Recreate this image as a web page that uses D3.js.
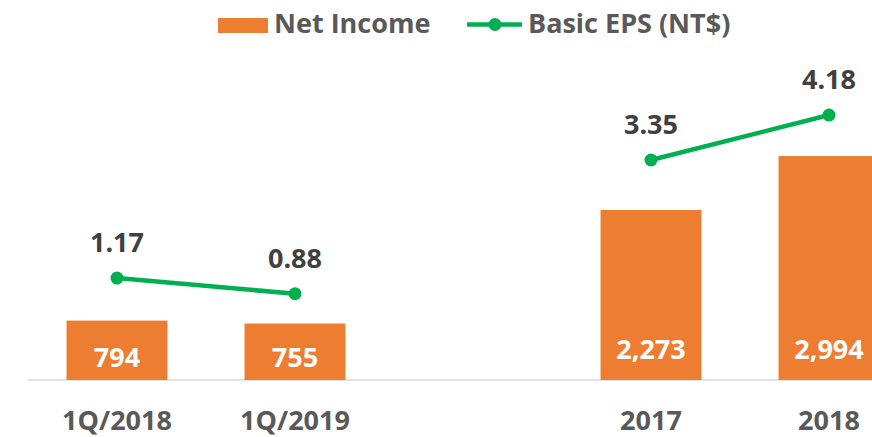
<!DOCTYPE html>
<meta charset="utf-8">
<style>
body { margin: 0; background: #fff; }
text { font-family: "Open Sans", sans-serif; font-weight: bold; }
</style>
<svg width="872" height="437" id="chart"></svg>
<script src="https://cdn.jsdelivr.net/npm/d3@7"></script>
<script>

var periods = ["1Q/2018", "1Q/2019", "2017", "2018"];
var netIncome = [794, 755, 2273, 2994];
var eps = [1.17, 0.88, 3.35, 4.18];
var panel = [0, 0, 1, 1];   // quarterly vs. annual
var slots = ["1Q/2018", "1Q/2019", "gap", "2017", "2018"];

var orange = "#ED7D31",
    green = "#00B050";

var svg = d3.select("svg#chart"),
    base = 380;

var data = periods.map(function(p, i) {
  return {period: p, ni: netIncome[i], eps: eps[i], panel: panel[i]};
});

var x = d3.scaleBand().domain(slots).range([28, 918])
    .paddingInner(0.433).paddingOuter(0.2165);
var y = d3.scaleLinear().domain([0, 4000]).range([base, base - 299.2]);
var y2 = d3.scaleLinear().domain([0, 5]).range([341.4, 70.65]);

// baseline
svg.append("line")
    .attr("x1", 28).attr("x2", 872)
    .attr("y1", base).attr("y2", base)
    .attr("stroke", "#d9d9d9").attr("stroke-width", 1.5);

svg.selectAll("rect.bar")
    .data(data)
  .enter().append("rect")
    .attr("class", "bar")
    .attr("x", function(d) { return x(d.period); })
    .attr("width", x.bandwidth())
    .attr("y", function(d) { return y(d.ni); })
    .attr("height", function(d) { return base - y(d.ni); })
    .attr("fill", orange);

svg.selectAll("text.ni")
    .data(data)
  .enter().append("text")
    .attr("class", "ni")
    .attr("x", function(d) { return x(d.period) + x.bandwidth() / 2; })
    .attr("y", function(d) { return base - (d.panel ? 21.5 : 13); })
    .attr("text-anchor", "middle")
    .attr("fill", "#fff")
    .style("font-size", "27px")
    .text(function(d) { return d3.format(",")(d.ni); });

var line = d3.line()
    .x(function(d) { return x(d.period) + x.bandwidth() / 2; })
    .y(function(d) { return y2(d.eps); });

[0, 1].forEach(function(k) {
  svg.append("path")
      .datum(data.filter(function(d) { return d.panel === k; }))
      .attr("d", line)
      .attr("fill", "none")
      .attr("stroke", green)
      .attr("stroke-width", 4.5);
});

svg.selectAll("circle.eps")
    .data(data)
  .enter().append("circle")
    .attr("class", "eps")
    .attr("cx", function(d) { return x(d.period) + x.bandwidth() / 2; })
    .attr("cy", function(d) { return y2(d.eps); })
    .attr("r", 6.5)
    .attr("fill", green);

svg.selectAll("text.eps")
    .data(data)
  .enter().append("text")
    .attr("class", "eps")
    .attr("x", function(d) { return x(d.period) + x.bandwidth() / 2; })
    .attr("y", function(d) { return y2(d.eps) - 26; })
    .attr("text-anchor", "middle")
    .attr("fill", "#404040")
    .style("font-size", "27px")
    .text(function(d) { return d3.format(".2f")(d.eps); });

// category labels
svg.selectAll("text.cat")
    .data(data)
  .enter().append("text")
    .attr("class", "cat")
    .attr("x", function(d) { return x(d.period) + x.bandwidth() / 2; })
    .attr("y", 430)
    .attr("text-anchor", "middle")
    .attr("fill", "#595959")
    .style("font-size", "27px")
    .text(function(d) { return d.period; });

// legend
var lg = svg.append("g");
lg.append("rect")
    .attr("x", 218).attr("y", 18).attr("width", 50).attr("height", 15)
    .attr("fill", orange);
lg.append("text")
    .attr("x", 274).attr("y", 33)
    .attr("fill", "#595959")
    .style("font-size", "27px")
    .text("Net Income");
lg.append("line")
    .attr("x1", 467).attr("x2", 522).attr("y1", 24.5).attr("y2", 24.5)
    .attr("stroke", green).attr("stroke-width", 4.5);
lg.append("circle")
    .attr("cx", 495).attr("cy", 24.5).attr("r", 6.5)
    .attr("fill", green);
lg.append("text")
    .attr("x", 528).attr("y", 33)
    .attr("fill", "#595959")
    .style("font-size", "27px")
    .text("Basic EPS (NT$)");

</script>
